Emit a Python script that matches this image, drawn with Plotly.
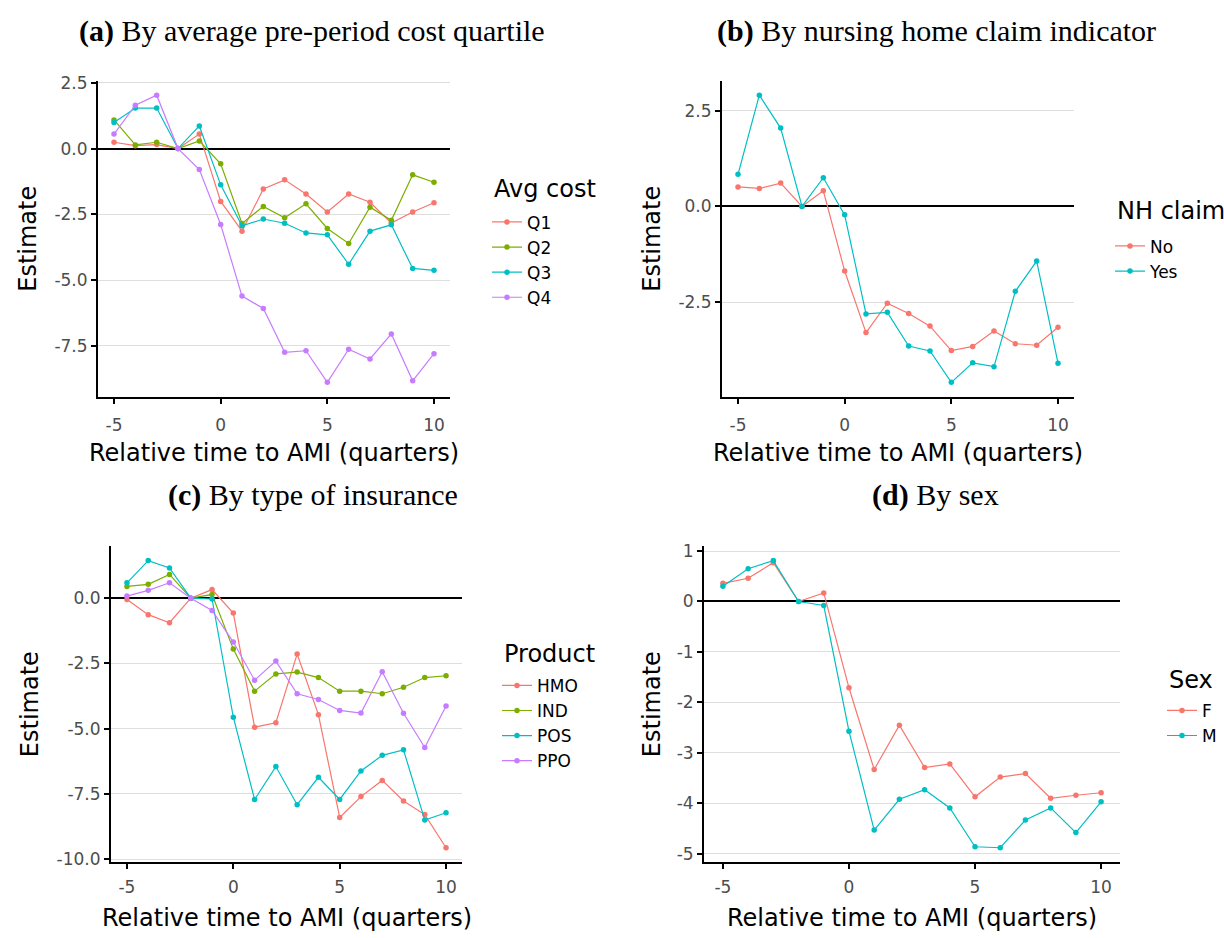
import plotly.graph_objects as go

# Event-study estimates by relative quarter to AMI, for four stratifications
rel_time = [-5, -4, -3, -2, -1, 0, 1, 2, 3, 4, 5, 6, 7, 8, 9, 10]

# (a) average pre-period cost quartile
cost_q1 = [0.24, 0.11, 0.15, 0.0, 0.55, -2.01, -3.14, -1.54, -1.19, -1.73, -2.41, -1.73, -2.04, -2.83, -2.41, -2.06]
cost_q2 = [1.09, 0.14, 0.24, 0.0, 0.29, -0.58, -2.85, -2.20, -2.63, -2.10, -3.04, -3.61, -2.23, -2.73, -1.00, -1.28]
cost_q3 = [0.99, 1.54, 1.54, 0.0, 0.86, -1.38, -2.94, -2.68, -2.84, -3.21, -3.28, -4.40, -3.14, -2.90, -4.56, -4.63]
cost_q4 = [0.55, 1.65, 2.03, 0.0, -0.80, -2.89, -5.61, -6.08, -7.75, -7.69, -8.89, -7.63, -8.00, -7.05, -8.83, -7.80]

# (b) nursing home claim indicator
nh_no = [0.51, 0.47, 0.61, 0.0, 0.41, -1.69, -3.30, -2.53, -2.80, -3.13, -3.77, -3.66, -3.26, -3.59, -3.63, -3.16]
nh_yes = [0.84, 2.91, 2.05, 0.0, 0.75, -0.22, -2.81, -2.77, -3.65, -3.78, -4.60, -4.09, -4.19, -2.22, -1.43, -4.10]

# (c) type of insurance product
prod_hmo = [-0.05, -0.63, -0.94, 0.0, 0.33, -0.57, -4.94, -4.77, -2.14, -4.46, -8.40, -7.60, -6.98, -7.77, -8.29, -9.56]
prod_ind = [0.45, 0.53, 0.91, 0.0, 0.14, -1.95, -3.56, -2.90, -2.83, -3.04, -3.56, -3.56, -3.66, -3.41, -3.04, -2.97]
prod_pos = [0.59, 1.44, 1.16, 0.0, -0.03, -4.56, -7.71, -6.45, -7.91, -6.86, -7.71, -6.62, -6.02, -5.81, -8.50, -8.22]
prod_ppo = [0.08, 0.30, 0.59, 0.0, -0.47, -1.68, -3.14, -2.41, -3.66, -3.88, -4.30, -4.40, -2.82, -4.41, -5.72, -4.13]

# (d) sex
sex_f = [0.36, 0.46, 0.77, 0.0, 0.17, -1.71, -3.33, -2.45, -3.29, -3.22, -3.87, -3.48, -3.41, -3.90, -3.84, -3.79]
sex_m = [0.30, 0.65, 0.81, 0.0, -0.08, -2.57, -4.53, -3.92, -3.73, -4.09, -4.86, -4.88, -4.33, -4.09, -4.58, -3.97]

# Tick values and labels
x_ticks = [-5, 0, 5, 10]
x_ticktext = ["-5", "0", "5", "10"]
y_ticks_a = [2.5, 0.0, -2.5, -5.0, -7.5]
y_ticktext_a = ["2.5", "0.0", "-2.5", "-5.0", "-7.5"]
y_ticks_b = [2.5, 0.0, -2.5]
y_ticktext_b = ["2.5", "0.0", "-2.5"]
y_ticks_c = [0.0, -2.5, -5.0, -7.5, -10.0]
y_ticktext_c = ["0.0", "-2.5", "-5.0", "-7.5", "-10.0"]
y_ticks_d = [1, 0, -1, -2, -3, -4, -5]
y_ticktext_d = ["1", "0", "-1", "-2", "-3", "-4", "-5"]

RED, GREEN, CYAN, PURPLE = "#F8766D", "#7CAE00", "#00BFC4", "#C77CFF"

W, H = 1224, 938
SANS = "DejaVu Sans, Arial, sans-serif"
SERIF = "Liberation Serif, Times New Roman, serif"


def px(x):
    return x / W


def py(y):
    return 1 - y / H


def padded(*series):
    lo = min(min(s) for s in series)
    hi = max(max(s) for s in series)
    pad = 0.05 * (hi - lo)
    return [lo - pad, hi + pad]


panels = [
    dict(ax="", leg="legend", xd=(98, 450), yd=(74, 395),
         series=[("Q1", cost_q1, RED), ("Q2", cost_q2, GREEN), ("Q3", cost_q3, CYAN), ("Q4", cost_q4, PURPLE)],
         yt=(y_ticks_a, y_ticktext_a), legend_title="Avg cost", leg_x=492, leg_title_y=184, leg_mid_y=256,
         xtitle_y=452, ytitle_x=28, tick_stand=7),
    dict(ax="2", leg="legend2", xd=(722, 1074), yd=(74, 395),
         series=[("No", nh_no, RED), ("Yes", nh_yes, CYAN)],
         yt=(y_ticks_b, y_ticktext_b), legend_title="NH claim", leg_x=1115, leg_title_y=206, leg_mid_y=255,
         xtitle_y=452, ytitle_x=652, tick_stand=7),
    dict(ax="3", leg="legend3", xd=(111, 462), yd=(547, 868),
         series=[("HMO", prod_hmo, RED), ("IND", prod_ind, GREEN), ("POS", prod_pos, CYAN), ("PPO", prod_ppo, PURPLE)],
         yt=(y_ticks_c, y_ticktext_c), legend_title="Product", leg_x=502, leg_title_y=657, leg_mid_y=727,
         xtitle_y=925, ytitle_x=30, tick_stand=3),
    dict(ax="4", leg="legend4", xd=(704, 1120), yd=(547, 868),
         series=[("F", sex_f, RED), ("M", sex_m, CYAN)],
         yt=(y_ticks_d, y_ticktext_d), legend_title="Sex", leg_x=1167, leg_title_y=683, leg_mid_y=727,
         xtitle_y=925, ytitle_x=652, tick_stand=3),
]

fig = go.Figure()
layout = {}
annotations = []

tick_font = dict(family=SANS, size=17, color="#4D4D4D")
axis_title_font = dict(family=SANS, size=24, color="black")
legend_title_font = dict(family=SANS, size=24, color="black")

for p in panels:
    for name, vals, col in p["series"]:
        fig.add_trace(go.Scatter(
            x=rel_time, y=vals, name=name, mode="lines+markers",
            line=dict(color=col, width=1.2),
            marker=dict(color=col, size=5.5),
            xaxis="x" + p["ax"], yaxis="y" + p["ax"],
            legend=p["leg"], showlegend=True,
        ))
    layout["xaxis" + p["ax"]] = dict(
        domain=[px(p["xd"][0]), px(p["xd"][1])],
        anchor="y" + p["ax"], range=[-5.75, 10.75],
        tickvals=x_ticks, ticktext=x_ticktext, tickfont=tick_font,
        ticklabelstandoff=p["tick_stand"],
        showgrid=False, zeroline=False,
        showline=True, linecolor="black", linewidth=2,
        ticks="outside", ticklen=5, tickcolor="black", tickwidth=1.5,
    )
    layout["yaxis" + p["ax"]] = dict(
        domain=[py(p["yd"][1]), py(p["yd"][0])],
        anchor="x" + p["ax"],
        range=padded(*[s[1] for s in p["series"]]),
        tickvals=p["yt"][0], ticktext=p["yt"][1], tickfont=tick_font,
        showgrid=True, gridcolor="#DEDEDE", gridwidth=1.2,
        zeroline=True, zerolinecolor="black", zerolinewidth=1.5,
        showline=True, linecolor="black", linewidth=2,
        ticks="outside", ticklen=5, tickcolor="black", tickwidth=1.5,
    )
    # legend keys (native) with the title set as its own text line
    layout[p["leg"]] = dict(
        x=px(p["leg_x"] - 5), y=py(p["leg_mid_y"]), xanchor="left", yanchor="middle",
        bgcolor="rgba(0,0,0,0)", tracegroupgap=0,
        font=dict(family=SANS, size=17, color="black"),
    )
    annotations.append(dict(text=p["legend_title"], x=px(p["leg_x"]), y=py(p["leg_title_y"]),
                            xref="paper", yref="paper", xanchor="left", yanchor="middle",
                            showarrow=False, font=legend_title_font))
    cx = (p["xd"][0] + p["xd"][1]) / 2
    cy = (p["yd"][0] + p["yd"][1]) / 2
    annotations.append(dict(text="Relative time to AMI (quarters)", x=px(cx), y=py(p["xtitle_y"]),
                            xref="paper", yref="paper", xanchor="center", yanchor="middle",
                            showarrow=False, font=axis_title_font))
    annotations.append(dict(text="Estimate", x=px(p["ytitle_x"]), y=py(cy),
                            xref="paper", yref="paper", xanchor="center", yanchor="middle",
                            textangle=-90, showarrow=False, font=axis_title_font))

head_font = dict(family=SERIF, size=30, color="black")
for text, cx, cy in [
    ("<b>(a)</b> By average pre-period cost quartile", 312, 23),
    ("<b>(b)</b> By nursing home claim indicator", 937, 23),
    ("<b>(c)</b> By type of insurance", 313, 495),
    ("<b>(d)</b> By sex", 936, 495),
]:
    annotations.append(dict(text=text, x=px(cx), y=py(cy), xref="paper", yref="paper",
                            xanchor="center", yanchor="middle", showarrow=False, font=head_font))

fig.update_layout(
    width=W, height=H, margin=dict(l=0, r=0, t=0, b=0),
    paper_bgcolor="white", plot_bgcolor="white",
    annotations=annotations, **layout,
)

fig.write_html("out.html")
